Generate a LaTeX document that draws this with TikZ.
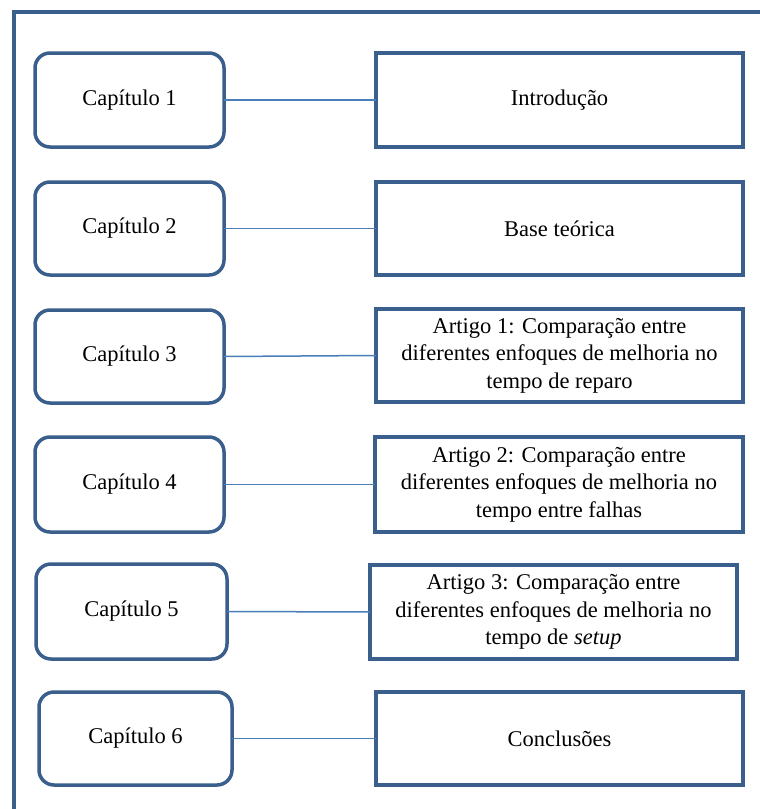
\documentclass[tikz,border=0pt]{standalone}
\usepackage{fontspec}
\setmainfont{Liberation Serif}
\definecolor{frameblue}{HTML}{3A5F8C}
\definecolor{linkblue}{HTML}{4A7EBB}
\begin{document}
\begin{tikzpicture}[x=1pt,y=-1pt,
  every node/.style={font=\fontsize{22.5}{27.5}\selectfont, inner sep=0pt, outer sep=0pt},
  chap/.style={draw=frameblue, line width=3.5pt, rounded corners=15pt, fill=white},
  topic/.style={draw=frameblue, line width=3.5pt, fill=white, align=center},
  link/.style={draw=linkblue, line width=1.5pt}]
\useasboundingbox (0,0) rectangle (760,809);
\fill[white] (0,0) rectangle (760,809);
% outer frame (top and left edges)
\draw[frameblue, line width=4pt] (14,809) -- (14,11.5) -- (760,11.5);

% chapter boxes
\node[chap, minimum width=189pt, minimum height=94pt] (c1) at (129.5,100) {Capítulo 1};
\node[chap, minimum width=189pt, minimum height=93pt] (c2) at (129.5,228.5) {Capítulo 2};
\node[chap, minimum width=189pt, minimum height=93pt] (c3) at (129.5,356.5) {Capítulo 3};
\node[chap, minimum width=189pt, minimum height=95pt] (c4) at (129.5,484.5) {Capítulo 4};
\node[chap, minimum width=191pt, minimum height=95pt] (c5) at (131.5,611.5) {Capítulo 5};
\node[chap, minimum width=193pt, minimum height=93pt] (c6) at (135.5,738.5) {Capítulo 6};

% content boxes
\node[topic, minimum width=367pt, minimum height=94pt] (t1) at (559.5,100) {Introdução};
\node[topic, minimum width=367pt, minimum height=93pt] (t2) at (559.5,228.5) {Base teórica};
\node[topic, minimum width=367pt, minimum height=93pt] (t3) at (559.5,355.5)
  {Artigo 1: Comparação entre\\diferentes enfoques de melhoria no\\tempo de reparo};
\node[topic, minimum width=368pt, minimum height=95pt] (t4) at (559,484.5)
  {Artigo 2: Comparação entre\\diferentes enfoques de melhoria no\\tempo entre falhas};
\node[topic, minimum width=367pt, minimum height=94pt] (t5) at (553.5,612)
  {Artigo 3: Comparação entre\\diferentes enfoques de melhoria no\\tempo de \textit{setup}};
\node[topic, minimum width=367pt, minimum height=93pt] (t6) at (559.5,738.5) {Conclusões};

% connectors
\foreach \i in {1,...,6} {
  \draw[link] (c\i.east) -- (t\i.west);
}
\end{tikzpicture}
\end{document}
